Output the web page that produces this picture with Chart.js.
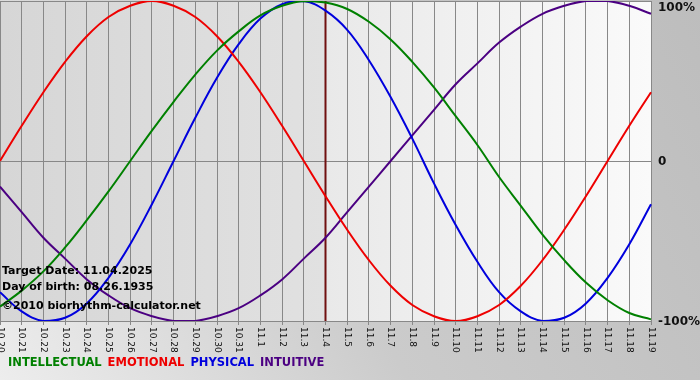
<!DOCTYPE html>
<html>
<head>
<meta charset="utf-8">
<script src="https://cdn.jsdelivr.net/npm/chart.js@4.4.1/dist/chart.umd.min.js"></script>
<style>
  html, body { margin: 0; padding: 0; background: #c8c8c8; }
  canvas { display: block; }
</style>
</head>
<body>
<canvas id="bioChart" width="700" height="380"></canvas>
<script>
// Days shown on the x axis (MM.D)
const days = ['10.20', '10.21', '10.22', '10.23', '10.24', '10.25', '10.26', '10.27', '10.28', '10.29', '10.30', '10.31',
    '11.1', '11.2', '11.3', '11.4', '11.5', '11.6', '11.7', '11.8', '11.9', '11.10', '11.11', '11.12', '11.13',
    '11.14', '11.15', '11.16', '11.17', '11.18', '11.19'];

// Cycle values in percent, one per day
const intellectual = [-91, -81, -69, -54, -37, -19, 0, 19, 37, 54, 69, 81, 91, 97, 100, 99, 95, 87, 76, 62, 46, 28, 10, -10, -28, -46, -62, -76, -87, -95, -99];
const emotional = [0, 22, 43, 62, 78, 90, 97, 100, 97, 90, 78, 62, 43, 22, 0, -22, -43, -62, -78, -90, -97, -100, -97, -90, -78, -62, -43, -22, 0, 22, 43];
const physical = [-82, -94, -100, -98, -89, -73, -52, -27, 0, 27, 52, 73, 89, 98, 100, 94, 82, 63, 40, 14, -14, -40, -63, -82, -94, -100, -98, -89, -73, -52, -27];
const intuitive = [-16, -32, -48, -61, -74, -84, -92, -97, -100, -100, -97, -92, -84, -74, -61, -48, -32, -16, 0, 16, 32, 48, 61, 74, 84, 92, 97, 100, 100, 97, 92];

const yTicks = [100, 0, -100];
const yTickLabels = ['100%', '0', '-100%'];
const targetDay = '11.4';
const infoLines = ['Target Date: 11.04.2025', 'Day of birth: 08.26.1935', '\u00a92010 biorhythm-calculator.net'];

const BOLD = 'bold 11.5px "DejaVu Sans", Verdana, sans-serif';

const bioPlugin = {
    id: 'bioDecor',
    beforeDraw(chart) {
        const { ctx, chartArea: a, width, height } = chart;
        ctx.save();
        // outer grey frame
        const outer = ctx.createLinearGradient(width, 0, 0, height);
        outer.addColorStop(0, '#bdbdbd');
        outer.addColorStop(0.55, '#cbcbcb');
        outer.addColorStop(1, '#ededed');
        ctx.fillStyle = outer;
        ctx.fillRect(0, 0, width, height);

        // plot area, darker before the target date
        const tx = chart.scales.x.getPixelForValue(days.indexOf(targetDay));
        const left = ctx.createLinearGradient(a.left, 0, tx, 0);
        left.addColorStop(0, '#d6d6d6');
        left.addColorStop(1, '#e1e1e1');
        ctx.fillStyle = left;
        ctx.fillRect(a.left, a.top, tx - a.left, a.bottom - a.top);
        const right = ctx.createLinearGradient(tx, 0, a.right, 0);
        right.addColorStop(0, '#e9e9e9');
        right.addColorStop(1, '#fafafa');
        ctx.fillStyle = right;
        ctx.fillRect(tx, a.top, a.right - tx, a.bottom - a.top);
        ctx.restore();
    },
    beforeDatasetsDraw(chart) {
        const { ctx, chartArea: a } = chart;
        const tx = chart.scales.x.getPixelForValue(days.indexOf(targetDay));
        ctx.save();
        ctx.strokeStyle = '#701010';
        ctx.lineWidth = 2;
        ctx.beginPath();
        ctx.moveTo(tx, a.top);
        ctx.lineTo(tx, a.bottom);
        ctx.stroke();
        ctx.restore();
    },
    afterDraw(chart) {
        const { ctx, chartArea: a } = chart;
        const xs = chart.scales.x;
        const ys = chart.scales.y;
        ctx.save();

        // x labels, rotated to read top-down
        ctx.font = '9px "DejaVu Sans", Verdana, sans-serif';
        ctx.fillStyle = '#111';
        ctx.textAlign = 'left';
        ctx.textBaseline = 'middle';
        days.forEach((d, i) => {
            ctx.save();
            ctx.translate(xs.getPixelForTick(i), a.bottom + 6);
            ctx.rotate(Math.PI / 2);
            ctx.fillText(d, 0, 0);
            ctx.restore();
        });

        // right axis labels
        ctx.font = 'bold 12px "DejaVu Sans", Verdana, sans-serif';
        ctx.fillStyle = '#111';
        yTicks.forEach((v, i) => {
            const y = Math.max(ys.getPixelForValue(v) + 1, 8);
            ctx.fillText(yTickLabels[i], a.right + 7, y);
        });

        // info text over the plot
        ctx.font = 'bold 11px "DejaVu Sans", Verdana, sans-serif';
        ctx.textBaseline = 'alphabetic';
        ctx.fillStyle = '#000';
        ctx.fillText(infoLines[0], 2, 274);
        ctx.fillText(infoLines[1], 2, 290);
        ctx.fillText(infoLines[2], 2, 309);

        // coloured legend
        ctx.font = BOLD;
        let x = 8;
        chart.data.datasets.forEach(ds => {
            ctx.fillStyle = ds.borderColor;
            ctx.fillText(ds.label, x, 366);
            x += ctx.measureText(ds.label).width + 6;
        });
        ctx.restore();
    }
};

const line = (label, data, color) => ({
    label,
    data,
    borderColor: color,
    borderWidth: 2,
    pointRadius: 0,
    tension: 0.4,
    fill: false
});

new Chart(document.getElementById('bioChart'), {
    type: 'line',
    data: {
        labels: days,
        datasets: [
            line('INTELLECTUAL', intellectual, '#008000'),
            line('EMOTIONAL', emotional, '#ee0000'),
            line('PHYSICAL', physical, '#0000dd'),
            line('INTUITIVE', intuitive, '#4b0082')
        ]
    },
    options: {
        responsive: false,
        animation: false,
        layout: { padding: { left: 0, right: 0, top: 1, bottom: 55 } },
        plugins: {
            legend: { display: false },
            tooltip: { enabled: false }
        },
        scales: {
            x: {
                offset: false,
                grid: { color: '#888', lineWidth: 1, tickLength: 4, drawTicks: true },
                border: { color: '#888' },
                ticks: { display: false, autoSkip: false }
            },
            y: {
                position: 'right',
                min: -100,
                max: 100,
                afterFit: (scale) => { scale.width = 49; },
                ticks: { display: false, stepSize: 100 },
                grid: { color: '#888', lineWidth: 1, drawTicks: false },
                border: { color: '#888' }
            }
        }
    },
    plugins: [bioPlugin]
});
</script>
</body>
</html>
